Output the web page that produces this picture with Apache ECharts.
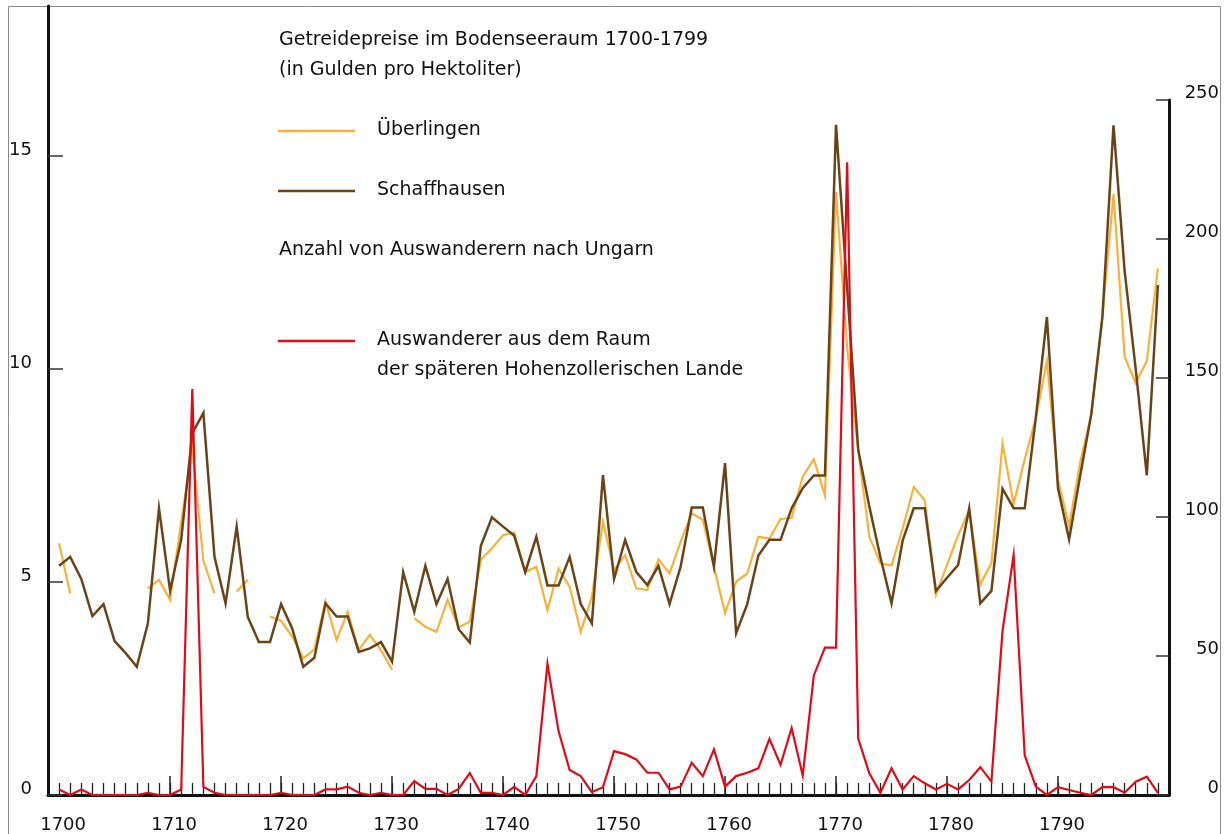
<!DOCTYPE html>
<html>
<head>
<meta charset="utf-8">
<script src="https://cdn.jsdelivr.net/npm/echarts@6/dist/echarts.min.js"></script>
<style>
html,body{margin:0;padding:0;background:#fff;}
#c{width:1227px;height:834px;}
</style>
</head>
<body>
<div id="c"></div>
<script>
const years = [
  1700,1701,1702,1703,1704,1705,1706,1707,1708,1709,
  1710,1711,1712,1713,1714,1715,1716,1717,1718,1719,
  1720,1721,1722,1723,1724,1725,1726,1727,1728,1729,
  1730,1731,1732,1733,1734,1735,1736,1737,1738,1739,
  1740,1741,1742,1743,1744,1745,1746,1747,1748,1749,
  1750,1751,1752,1753,1754,1755,1756,1757,1758,1759,
  1760,1761,1762,1763,1764,1765,1766,1767,1768,1769,
  1770,1771,1772,1773,1774,1775,1776,1777,1778,1779,
  1780,1781,1782,1783,1784,1785,1786,1787,1788,1789,
  1790,1791,1792,1793,1794,1795,1796,1797,1798,1799
];
const decadeLabels = [1700,1710,1720,1730,1740,1750,1760,1770,1780,1790];
const decadeTicks = [1710,1720,1730,1740,1750,1760,1770,1780,1790];
const priceTicks = [0,5,10,15];
const emigrantTicks = [0,50,100,150,200,250];

// Getreidepreise Überlingen (Gulden pro Hektoliter), null = keine Angabe
const ueberlingen = [
  5.91,4.73,null,null,null,null,null,null,4.85,5.05,
  4.58,6.4,8.15,5.5,4.73,null,4.77,5.05,null,4.19,
  4.09,3.72,3.21,3.42,4.54,3.64,4.30,3.40,3.76,3.40,
  2.94,null,4.15,3.95,3.83,4.58,3.93,4.07,5.52,5.79,
  6.10,6.16,5.23,5.36,4.34,5.31,4.89,3.83,4.65,6.42,
  5.28,5.63,4.85,4.81,5.53,5.20,5.95,6.61,6.46,5.36,
  4.27,5.01,5.20,6.06,6.02,6.48,6.50,7.48,7.88,7.03,
  14.16,10.5,8.1,6.06,5.44,5.39,6.25,7.23,6.92,4.70,
  5.40,6.10,6.67,4.94,5.45,8.25,6.83,7.88,8.84,10.19,
  7.39,6.31,7.81,8.94,11.22,14.11,10.29,9.67,10.19,12.36
];
// Getreidepreise Schaffhausen
const schaffhausen = [
  5.38,5.59,5.07,4.20,4.48,3.61,3.33,3.01,4.03,6.73,
  4.80,5.99,8.49,8.97,5.59,4.50,6.30,4.18,3.59,3.59,
  4.48,3.91,3.01,3.22,4.50,4.19,4.19,3.36,3.44,3.59,
  3.13,5.23,4.30,5.38,4.48,5.07,3.89,3.58,5.85,6.52,
  6.30,6.09,5.23,6.06,4.92,4.92,5.59,4.48,4.03,7.51,
  5.07,5.99,5.24,4.93,5.38,4.48,5.36,6.75,6.75,5.36,
  7.79,3.80,4.48,5.62,5.99,5.99,6.73,7.20,7.50,7.50,
  15.73,11.9,8.1,6.77,5.58,4.50,5.97,6.73,6.73,4.79,
  5.10,5.40,6.73,4.50,4.79,7.19,6.73,6.73,8.85,11.22,
  7.2,6.00,7.5,8.94,11.22,15.72,12.3,10.0,7.5,11.97
];
// Auswanderer aus dem Raum der späteren Hohenzollerischen Lande
const auswanderer = [
  2.0,0,2.0,0,0,0,0,0,0.8,0,
  0,2.0,146,2.9,0.8,0,0,0,0,0,
  0.8,0,0,0,2.0,2.0,3.0,0.8,0,0.8,
  0,0,5.0,2.2,2.2,0,2.2,7.9,0.8,0.8,
  0,2.9,0,6.8,47.2,23.0,9.0,6.8,1.0,2.8,
  15.8,14.7,12.8,8.0,8.0,2.0,3.0,11.6,6.8,16.4,
  3.0,6.8,8.0,9.6,20.2,10.9,24.1,7.0,43.0,53.0,
  53.0,227.6,20.3,7.8,0.8,9.6,2.0,6.8,4.2,2.0,
  4.0,2.0,5.4,10.0,4.8,59.0,86.3,14.3,3.0,0,
  2.8,1.8,0.8,0,2.8,2.8,0.8,4.8,6.6,0.8
];

const titleLine1 = 'Getreidepreise im Bodenseeraum 1700-1799';
const titleLine2 = '(in Gulden pro Hektoliter)';
const nameUeb = 'Überlingen';
const nameSch = 'Schaffhausen';
const groupTitle = 'Anzahl von Auswanderern nach Ungarn';
const nameAus1 = 'Auswanderer aus dem Raum';
const nameAus2 = 'der späteren Hohenzollerischen Lande';

const C_ORANGE = '#F9B13B';
const C_BROWN = '#6B4318';
const C_RED = '#E30A17';
const FONT = '"DejaVu Sans", sans-serif';

function pairs(vals){ return years.map((y,i)=>[y, vals[i]===null ? '-' : vals[i]]); }

const chart = echarts.init(document.getElementById('c'), null, {renderer:'canvas', width:1227, height:834});

const txt = (text, x, y) => ({type:'text', x:x, y:y, z:10,
  style:{text:text, font:'19px ' + FONT, fill:'#111', verticalAlign:'middle', align:'left'}});
const seg = (y, color) => ({type:'line', z:10, shape:{x1:278, y1:y, x2:355, y2:y},
  style:{stroke:color, lineWidth:2.5}});

const option = {
  animation:false,
  backgroundColor:'#ffffff',
  grid:[
    {left:48, right:58, top:6, bottom:39},
    {left:48, right:58, top:100, bottom:39}
  ],
  xAxis:[
    {gridIndex:0, type:'value', min:1699, max:1800,
      axisLine:{show:true, lineStyle:{color:'#111', width:3}},
      axisTick:{show:true, inside:true, length:12, customValues:years, lineStyle:{color:'#222', width:1.3}},
      axisLabel:{show:false}, splitLine:{show:false}},
    {gridIndex:1, type:'value', min:1699, max:1800,
      axisLine:{show:false},
      axisTick:{show:true, inside:true, length:19, customValues:decadeTicks, lineStyle:{color:'#222', width:1.5}},
      axisLabel:{show:true, customValues:decadeLabels, formatter:v=>String(v), fontFamily:'DejaVu Sans', fontSize:18, color:'#111', margin:21, padding:[0,0,0,8]},
      splitLine:{show:false}}
  ],
  yAxis:[
    {gridIndex:0, type:'value', min:0, max:18.52, position:'left',
      axisLine:{show:true, lineStyle:{color:'#111', width:3}},
      axisTick:{show:true, inside:true, length:15, customValues:priceTicks, lineStyle:{color:'#333', width:1.5}},
      axisLabel:{show:true, customValues:priceTicks, fontFamily:'DejaVu Sans', fontSize:18, color:'#111', margin:16, verticalAlign:'bottom', lineHeight:12},
      splitLine:{show:false}},
    {gridIndex:1, type:'value', min:0, max:250, interval:50, position:'right',
      axisLine:{show:true, lineStyle:{color:'#111', width:3}},
      axisTick:{show:true, inside:true, length:13, customValues:emigrantTicks, lineStyle:{color:'#333', width:1.5}},
      axisLabel:{show:true, customValues:emigrantTicks, align:'right', fontFamily:'DejaVu Sans', fontSize:18, color:'#111', margin:50, verticalAlign:'bottom', lineHeight:14},
      splitLine:{show:false}}
  ],
  series:[
    {name:nameUeb, type:'line', xAxisIndex:0, yAxisIndex:0, data:pairs(ueberlingen),
      showSymbol:false, connectNulls:false, z:2,
      lineStyle:{color:C_ORANGE, width:2.2, join:'miter'}},
    {name:nameSch, type:'line', xAxisIndex:0, yAxisIndex:0, data:pairs(schaffhausen),
      showSymbol:false, z:3,
      lineStyle:{color:C_BROWN, width:2.5, join:'miter'}},
    {name:nameAus1, type:'line', xAxisIndex:1, yAxisIndex:1, data:pairs(auswanderer),
      showSymbol:false, z:4,
      lineStyle:{color:C_RED, width:2.2, join:'miter'}}
  ],
  graphic:[
    {type:'rect', z:0, shape:{x:8.5, y:6.5, width:1212, height:840},
      style:{fill:'none', stroke:'#8a8a8a', lineWidth:1}},
    txt(titleLine1, 279, 40),
    txt(titleLine2, 279, 70),
    seg(131, C_ORANGE),
    txt(nameUeb, 377, 130),
    seg(191, C_BROWN),
    txt(nameSch, 377, 190),
    txt(groupTitle, 279, 250),
    seg(341, C_RED),
    txt(nameAus1, 377, 340),
    txt(nameAus2, 377, 370)
  ]
};
chart.setOption(option);
</script>
</body>
</html>
